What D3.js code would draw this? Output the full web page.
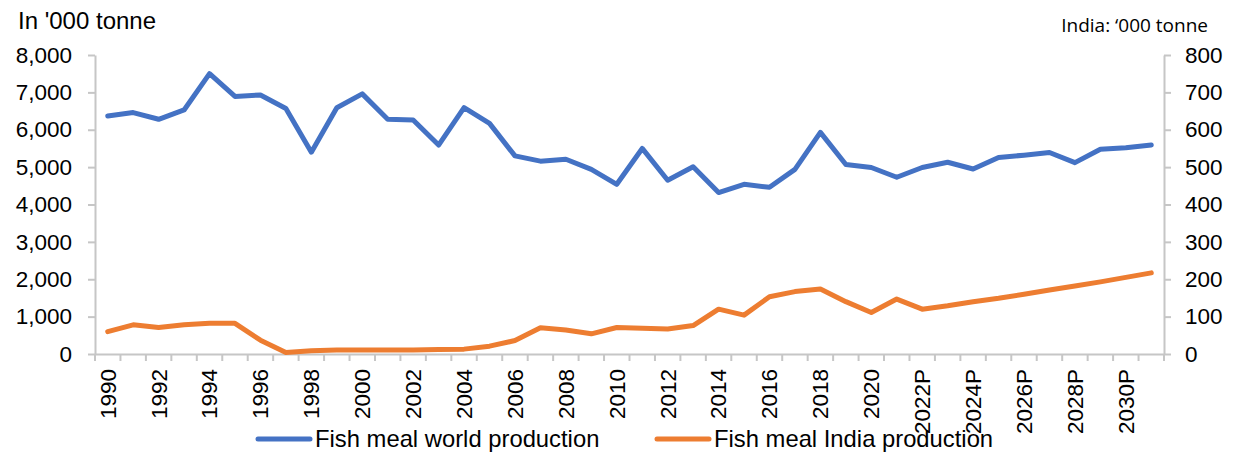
<!DOCTYPE html>
<html>
<head>
<meta charset="utf-8">
<script src="https://cdn.jsdelivr.net/npm/d3@7"></script>
<style>
  body { margin: 0; background: #fff; }
  svg { display: block; font-family: "Liberation Sans", Arial, sans-serif; }
</style>
</head>
<body>
<script>
// categories: 1990-2021 actuals, 2022P-2031P projections
const years = [];
for (let y = 1990; y <= 2021; y++) years.push(String(y));
for (let y = 2022; y <= 2031; y++) years.push(y + "P");

// world production, '000 tonne (left axis)
const worldProd = [6370, 6460, 6280, 6530, 7500, 6890, 6930, 6570, 5400, 6590,
                   6960, 6280, 6260, 5590, 6590, 6170, 5300, 5160, 5210, 4940,
                   4540, 5500, 4650, 5010, 4320, 4540, 4460, 4940, 5930, 5070,
                   4990, 4730, 4990, 5130, 4950, 5260, 5320, 5390, 5120, 5480,
                   5520, 5590];

// India production, '000 tonne (right axis)
const indiaProd = [60, 78, 71, 78, 82, 82, 37, 4, 9, 11,
                   11, 11, 11, 12, 13, 21, 36, 70, 64, 54,
                   71, 69, 67, 76, 120, 104, 153, 167, 174, 140,
                   111, 147, 120, 129, 140, 149, 160, 171, 182, 193,
                   205, 217];

const leftTicks = [0, 1000, 2000, 3000, 4000, 5000, 6000, 7000, 8000];
const rightTicks = [0, 100, 200, 300, 400, 500, 600, 700, 800];

const w = 1234, h = 452;
const plotLeft = 95, plotRight = 1164, plotTop = 55, plotBottom = 354;
const axisColor = "#c6c6c6";

const svg = d3.select("body").append("svg")
  .attr("width", w)
  .attr("height", h);

const x = d3.scaleBand().domain(years).range([plotLeft, plotRight]);
const yL = d3.scaleLinear().domain([0, 8000]).range([plotBottom, plotTop]);
const yR = d3.scaleLinear().domain([0, 800]).range([plotBottom, plotTop]);

// titles
svg.append("text")
  .attr("x", 18).attr("y", 29)
  .attr("font-size", 24)
  .attr("fill", "#000")
  .text("In '000 tonne");

svg.append("text")
  .attr("x", 1208).attr("y", 32)
  .attr("text-anchor", "end")
  .attr("font-family", "'Open Sans', 'Noto Sans', sans-serif")
  .attr("font-size", 19)
  .attr("fill", "#000")
  .text("India: \u2018000 tonne");

// left axis
const leftAxis = svg.append("g")
  .attr("transform", "translate(" + plotLeft + ",0)")
  .call(d3.axisLeft(yL).tickValues(leftTicks).tickSize(7).tickSizeOuter(0).tickPadding(16)
    .tickFormat(d3.format(",")));

// right axis
const rightAxis = svg.append("g")
  .attr("transform", "translate(" + plotRight + ",0)")
  .call(d3.axisRight(yR).tickValues(rightTicks).tickSize(7).tickSizeOuter(0).tickPadding(14));

[leftAxis, rightAxis].forEach(g => {
  g.select(".domain").attr("stroke", axisColor).attr("stroke-width", 2);
  g.selectAll(".tick line").attr("stroke", axisColor).attr("stroke-width", 2);
  g.selectAll(".tick text").attr("font-size", 22.5).attr("fill", "#000")
    .attr("font-family", "'Liberation Sans', Arial, sans-serif");
});

// bottom axis: labels on every other category, ticks at category boundaries
const bottomAxis = svg.append("g")
  .attr("transform", "translate(0," + plotBottom + ")")
  .call(d3.axisBottom(x).tickSize(0).tickSizeOuter(0)
    .tickFormat((d, i) => i % 2 === 0 ? d : ""));

bottomAxis.select(".domain").attr("stroke", axisColor).attr("stroke-width", 2);
bottomAxis.selectAll(".tick text")
  .attr("font-size", 22.5)
  .attr("fill", "#000")
  .attr("font-family", "'Liberation Sans', Arial, sans-serif")
  .attr("transform", "rotate(-90)")
  .attr("text-anchor", "end")
  .attr("x", -15)
  .attr("y", 0)
  .attr("dy", "0.35em");

const bounds = years.map(d => x(d)).concat([x(years[years.length - 1]) + x.bandwidth()]);
bottomAxis.selectAll(".btick")
  .data(bounds)
  .enter()
  .append("line")
  .attr("class", "btick")
  .attr("x1", d => d).attr("x2", d => d)
  .attr("y1", 0).attr("y2", 7)
  .attr("stroke", axisColor)
  .attr("stroke-width", 2);

// lines
const cx = d => x(d) + x.bandwidth() / 2;

const worldLine = d3.line()
  .x((d, i) => cx(years[i]))
  .y(d => yL(d));

const indiaLine = d3.line()
  .x((d, i) => cx(years[i]))
  .y(d => yR(d));

svg.append("path")
  .datum(worldProd)
  .attr("d", worldLine)
  .attr("fill", "none")
  .attr("stroke", "#4472C4")
  .attr("stroke-width", 5)
  .attr("stroke-linejoin", "round")
  .attr("stroke-linecap", "round");

svg.append("path")
  .datum(indiaProd)
  .attr("d", indiaLine)
  .attr("fill", "none")
  .attr("stroke", "#ED7D31")
  .attr("stroke-width", 5)
  .attr("stroke-linejoin", "round")
  .attr("stroke-linecap", "round");

// legend
const legendItems = [
  { name: "Fish meal world production", color: "#4472C4", x: 258 },
  { name: "Fish meal India production", color: "#ED7D31", x: 657 }
];

const legend = svg.append("g");
legendItems.forEach(item => {
  legend.append("line")
    .attr("x1", item.x).attr("x2", item.x + 52)
    .attr("y1", 439).attr("y2", 439)
    .attr("stroke", item.color)
    .attr("stroke-width", 5)
    .attr("stroke-linecap", "round");
  legend.append("text")
    .attr("x", item.x + 57).attr("y", 447)
    .attr("font-size", 23.8)
    .attr("fill", "#000")
    .text(item.name);
});
</script>
</body>
</html>
